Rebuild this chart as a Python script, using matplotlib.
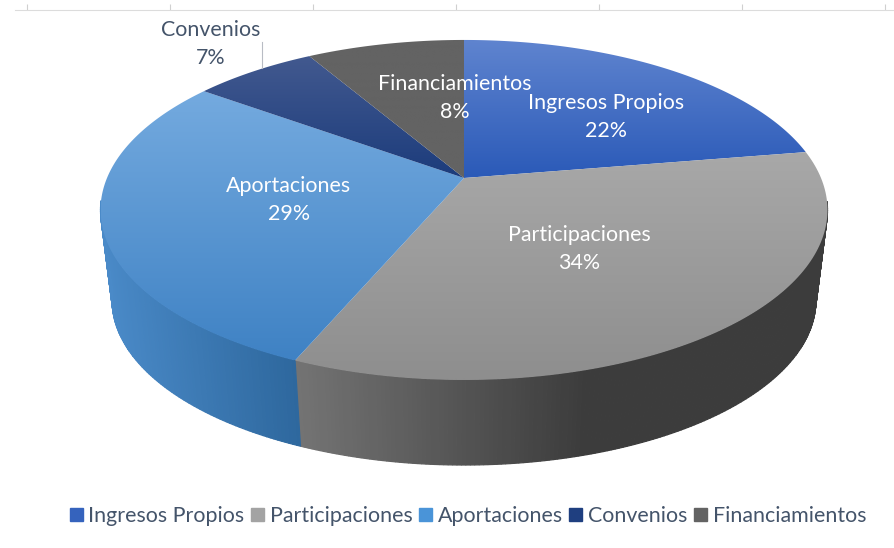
#coding=utf-8
import numpy as np
import matplotlib
matplotlib.use('Agg')
import matplotlib.pyplot as plt
from matplotlib.colors import to_rgb
from matplotlib.patches import Patch, Polygon

plt.rcParams['font.family'] = ['Lato', 'DejaVu Sans']

categories = ['Ingresos Propios', 'Participaciones', 'Aportaciones', 'Convenios', 'Financiamientos']
values = [22.4, 34.0, 28.6, 6.6, 8.4]
legend_colors = ['#3563bd', '#a3a3a3', '#4a94d8', '#1f3f80', '#636363']
# top face gradient, upper and lower colour of each slice
top_hi = ['#5f84cf', '#a8a8a8', '#74aadf', '#42598f', '#636363']
top_lo = ['#2b5ab8', '#8e8e8e', '#3f82c4', '#1c3c7c', '#636363']
# side colours, left and right end of each slice
side_l = ['#3a3a3a', '#747474', '#4a8ac8', '#1c3c7c', '#444444']
side_r = ['#3a3a3a', '#3c3c3c', '#2e689e', '#1c3c7c', '#444444']
side_reach = [1.0, 0.55, 1.0, 1.0, 1.0]
label_xy = [(606, 116), (579, 248), (289, 199), (211, 43), (455, 97)]
label_colors = ['white', 'white', 'white', '#44546a', 'white']
axis_ticks = [27, 170, 313, 456, 599, 742, 885]

# perspective of the disc, in pixels of the picture
cx, cy, rx, ry, k = 464, 178, 357, 164, 0.188
depth_cy, depth_scale = 269.5, 0.968


def project(theta, r=1.0, yc=cy, s=1.0):
    u = r * np.sin(theta)
    v = r * np.cos(theta)
    w = 1 + k * v
    return cx + s * rx * u / w, yc - s * ry * v / w


fig = plt.figure(figsize=(8.94, 5.48), dpi=100)
ax = fig.add_axes([0, 0, 1, 1])

edges = np.radians(np.cumsum([0] + values) * 3.6)

# sides first, only the front of the rim shows
for i in range(len(values)):
    th = np.linspace(edges[i], edges[i + 1], int(values[i] * 6) + 2)
    x0, y0 = project(th)
    x1, y1 = project(th, yc=depth_cy, s=depth_scale)
    left, right = np.array(to_rgb(side_l[i])), np.array(to_rgb(side_r[i]))
    span = max(x0.max() - x0.min(), 1)
    for j in range(len(th) - 1):
        if np.cos(th[j]) > -0.14 and np.cos(th[j + 1]) > -0.14:
            continue
        t = min((x0[j] - x0.min()) / span / side_reach[i], 1)
        c = left + (right - left) * t
        ax.fill([x0[j], x0[j + 1], x1[j + 1], x1[j]], [y0[j], y0[j + 1], y1[j + 1], y1[j]],
                color=c, lw=0.9, zorder=2)

# top faces with a vertical gradient
for i in range(len(values)):
    th = np.linspace(edges[i], edges[i + 1], 120)
    x, y = project(th)
    px = np.r_[cx, x]
    py = np.r_[cy, y]
    poly = Polygon(np.c_[px, py], closed=True, fc='none', ec='none', transform=ax.transData)
    ax.add_patch(poly)
    n = 64
    t = np.linspace(0, 1, n)[:, None, None]
    grad = np.array(to_rgb(top_hi[i]))[None, None, :] * (1 - t) + np.array(to_rgb(top_lo[i]))[None, None, :] * t
    im = ax.imshow(grad, extent=(px.min(), px.max(), py.max(), py.min()), aspect='auto',
                   interpolation='bilinear', zorder=3)
    im.set_clip_path(poly)

ax.set_xlim(0, 894)
ax.set_ylim(548, 0)
ax.axis('off')

# leader line of Convenios
ax.plot([262, 262], [42, 68], color='#b8bcc4', lw=0.8, zorder=4)

for name, val, (lx, ly), col in zip(categories, values, label_xy, label_colors):
    ax.text(lx, ly + 1, '%s\n%.0f%%' % (name, val), color=col, fontsize=15.4, ha='center', va='center',
            linespacing=1.5, zorder=5)

handles = [Patch(color=c, label=n) for c, n in zip(legend_colors, categories)]
ax.legend(handles=handles, ncol=5, frameon=False, loc='center', bbox_to_anchor=(468, 516),
          bbox_transform=ax.transData, fontsize=15.4, labelcolor='#44546a', handlelength=0.6,
          handleheight=0.6, handletextpad=0.28, columnspacing=0.3, borderpad=0, borderaxespad=0)

# faint axis left over on top of the picture
top = fig.add_axes([15 / 894, 1 - 10 / 548, 879 / 894, 6 / 548])
top.patch.set_alpha(0)
top.set_xlim(15, 894)
top.set_ylim(0, 1)
for s in ['top', 'left', 'right']:
    top.spines[s].set_visible(False)
top.spines['bottom'].set_color('#dcdcdc')
top.set_yticks([])
top.set_xticks(axis_ticks)
top.set_xticklabels([])
top.tick_params(axis='x', direction='in', length=4, color='#d0d0d0', width=0.8)

fig.savefig('out.png', dpi=100)
